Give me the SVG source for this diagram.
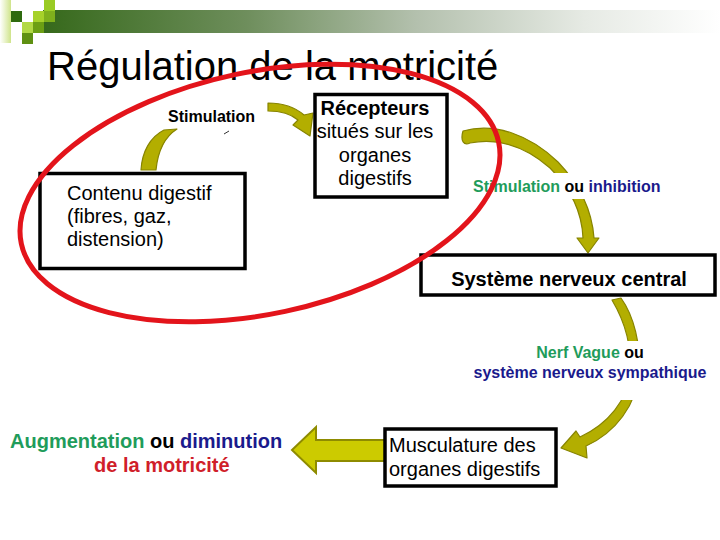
<svg xmlns="http://www.w3.org/2000/svg" width="720" height="540" viewBox="0 0 720 540">
<defs>
<linearGradient id="bar" x1="0" x2="1" y1="0" y2="0">
<stop offset="0" stop-color="#36691b"/>
<stop offset="0.3" stop-color="#6e8e5c"/>
<stop offset="0.55" stop-color="#b3c0ad"/>
<stop offset="0.8" stop-color="#e6eae4"/>
<stop offset="1" stop-color="#ffffff"/>
</linearGradient>
<linearGradient id="edge" x1="0" x2="1" y1="0" y2="0">
<stop offset="0" stop-color="#ffffff"/>
<stop offset="1" stop-color="#cfe48a"/>
</linearGradient>
<style>
.box{fill:#fff;stroke:#000;stroke-width:3.5}
.t{font-family:"Liberation Sans",Arial,sans-serif;font-size:20px;fill:#000}
.title{font-size:40px}
.b{font-weight:bold}
.s{font-size:16px;font-weight:bold}
.g{fill:#1f9c5b}
.n{fill:#1a1a8c}
.r{fill:#d01e2a}
.k{fill:#000}
.curve{fill:#b3ae00;stroke:#878400;stroke-width:1.2;stroke-linejoin:round}
.block{fill:#cccb00;stroke:#8e8b00;stroke-width:2;stroke-linejoin:miter}
.bg{fill:#fff}
</style>
</defs>
<g id="header">
<rect x="43" y="10" width="677" height="23" fill="url(#bar)"/>
<rect x="0" y="0" width="11" height="43" fill="url(#edge)"/>
<rect x="44" y="0" width="11" height="11" fill="#9acb24"/>
<rect x="11" y="11" width="11" height="11" fill="#2e6a0e"/>
<rect x="33" y="11" width="11" height="11" fill="#a6d12a"/>
<rect x="44" y="11" width="11" height="11" fill="#7fb01c"/>
<rect x="22" y="22" width="11" height="11" fill="#b2d944"/>
<rect x="33" y="22" width="11" height="11" fill="#6c9f14"/>
<rect x="22" y="33" width="11" height="11" fill="#5f9012"/>
</g>
<g id="title">
<text class="t title" x="47" y="80">Régulation de la motricité</text>
</g>
<g id="connectors">
<path class="curve" d="M141,170 C142,152 150,137 164,130 L177,129 C166,136 158,150 156,170 Z"/>
<path class="curve" d="M268,103 C284,103 296,108 304,115 L313,113 L310,136 L293,125 L298,120 C291,114 281,111 268,111 Z"/>
<path class="curve" d="M463,131 C495,122 530,135 558,162 C580,185 592,210 594,238 L599,238 L588,253 L577,238 L583,238 C582,212 570,188 550,168 C525,146 497,138 470,143 C464,146 460,141 463,131 Z"/>
<path class="curve" d="M612,300 L621,298 C634,316 641,345 639,372 C637,405 615,433 586,446 L587,458 L561,448 L576,431 L580,437 C608,424 628,400 630,372 C632,345 625,322 612,300 Z"/>
<path class="block" d="M292,450 L316,427 L316,440 L385,440 L385,461 L316,461 L316,473 Z"/>
<path d="M224,134 L229,131" stroke="#333" stroke-width="1" fill="none"/>
</g>
<g id="node-contenu">
<rect class="box" x="40" y="173.5" width="205" height="95"/>
<text class="t" x="67" y="200">Contenu digestif</text>
<text class="t" x="67" y="223">(fibres, gaz,</text>
<text class="t" x="67" y="246">distension)</text>
</g>
<g id="node-recepteurs">
<rect class="box" x="315" y="94.5" width="132" height="102.5"/>
<text class="t" text-anchor="middle" x="375" y="115"><tspan class="b">Récepteurs</tspan><tspan x="375" y="138">situés sur les</tspan><tspan x="375" y="161.5">organes</tspan><tspan x="375" y="185">digestifs</tspan></text>
</g>
<g id="node-snc">
<rect class="box" x="421" y="255" width="294" height="40"/>
<text class="t b" text-anchor="middle" x="569" y="286">Système nerveux central</text>
</g>
<g id="node-musculature">
<rect class="box" x="385" y="429" width="171" height="57"/>
<text class="t" x="389" y="452">Musculature des</text>
<text class="t" x="389" y="476">organes digestifs</text>
</g>
<g id="label-stimulation">
<text class="t s" x="168" y="122">Stimulation</text>
</g>
<g id="label-stim-inhib">
<rect class="bg" x="468" y="173" width="198" height="26"/>
<text class="t s" x="473" y="192"><tspan class="g">Stimulation</tspan> <tspan class="k">ou</tspan> <tspan class="n">inhibition</tspan></text>
</g>
<g id="label-nerf">
<rect class="bg" x="470" y="341" width="242" height="59"/>
<text class="t s" text-anchor="middle" x="590" y="358"><tspan class="g">Nerf Vague</tspan> <tspan class="k">ou</tspan></text>
<text class="t s n" text-anchor="middle" x="590" y="378">système nerveux sympathique</text>
</g>
<g id="label-augmentation">
<text class="t b" x="10" y="448"><tspan class="g">Augmentation</tspan> <tspan class="k">ou</tspan> <tspan class="n">diminution</tspan></text>
<text class="t b r" x="94" y="472">de la motricité</text>
</g>
<g id="highlight">
<ellipse cx="260" cy="193" rx="244" ry="121" transform="rotate(-12 260 193)" fill="none" stroke="#e3141b" stroke-width="5"/>
</g>
</svg>
